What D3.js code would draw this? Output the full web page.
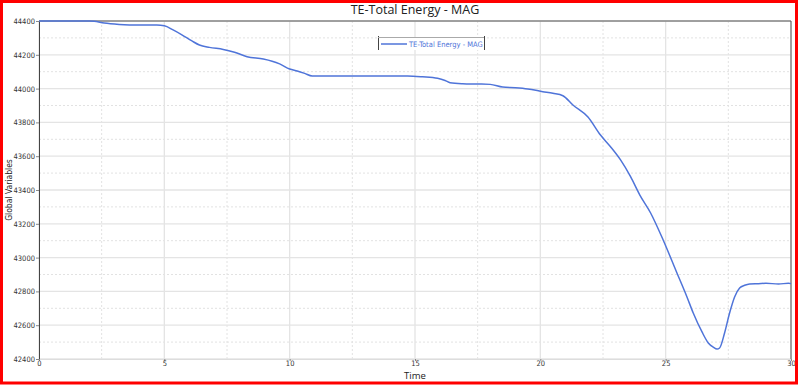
<!DOCTYPE html>
<html><head><meta charset="utf-8">
<script src="https://cdn.jsdelivr.net/npm/d3@7/dist/d3.min.js"></script>
<style>body{margin:0;background:#fff}svg{display:block}</style>
</head><body>
<svg id="c" width="800" height="385"></svg>
<script>
const title = "TE-Total Energy - MAG";
const seriesName = "TE-Total Energy - MAG";
const xLabel = "Time";
const yLabel = "Global Variables";
const xTicks = [0,5,10,15,20,25,30];
const yTicks = [42400,42600,42800,43000,43200,43400,43600,43800,44000,44200,44400];
const times = [0,1,2,2.2,2.6,3.2,4.0,4.7,5.0,5.35,5.7,6.1,6.4,6.8,7.35,7.8,8.3,8.95,9.3,9.6,10.0,10.3,10.6,10.9,12,13,14,14.7,15.3,15.9,16.2,16.4,16.9,17.5,18.0,18.5,19.0,19.5,20.1,20.5,20.9,21.3,21.9,22.4,22.8,23.2,23.6,23.97,24.4,24.9,25.45,25.85,26.1,26.45,26.7,26.9,27.05,27.15,27.35,27.55,27.75,27.95,28.15,28.35,28.7,29.0,29.5,29.9,30];
const values = [44400,44400,44400,44398,44388,44380,44376,44376,44372,44347,44318,44282,44258,44244,44232,44215,44189,44175,44162,44146,44116,44104,44090,44075,44075,44075,44075,44075,44070,44061,44048,44035,44029,44027,44025,44009,44005,43998,43982,43972,43958,43903,43832,43725,43656,43578,43479,43370,43264,43104,42909,42767,42672,42560,42495,42470,42459,42465,42554,42672,42767,42820,42836,42844,42846,42848,42844,42848,42846];

const svg = d3.select("#c");
const L=39,R=791,T=21,B=359;
const x = d3.scaleLinear().domain([0,30]).range([L,R]);
const y = d3.scaleLinear().domain([42400,44400]).range([B,T]);
const tickFont = "DejaVu Sans Condensed, DejaVu Sans";

// minor dotted grid
const xMinor = d3.range(2.5,30,5), yMinor = d3.range(42500,44400,200);
svg.append("g").selectAll("line").data(xMinor).join("line")
  .attr("x1",d=>x(d)).attr("x2",d=>x(d)).attr("y1",T).attr("y2",B)
  .attr("stroke","#e2e2e2").attr("stroke-dasharray","2,2");
svg.append("g").selectAll("line").data(yMinor).join("line")
  .attr("y1",d=>y(d)).attr("y2",d=>y(d)).attr("x1",L).attr("x2",R)
  .attr("stroke","#e2e2e2").attr("stroke-dasharray","2,2");
// major grid
svg.append("g").selectAll("line").data(xTicks).join("line")
  .attr("x1",d=>x(d)).attr("x2",d=>x(d)).attr("y1",T).attr("y2",B)
  .attr("stroke","#e4e4e4").attr("stroke-width",1.3);
svg.append("g").selectAll("line").data(yTicks).join("line")
  .attr("y1",d=>y(d)).attr("y2",d=>y(d)).attr("x1",L).attr("x2",R)
  .attr("stroke","#e4e4e4").attr("stroke-width",1.3);

// axes
const yAxis = d3.axisLeft(y).tickValues(yTicks).tickFormat(d3.format("d")).tickSize(3).tickPadding(1);
const gy = svg.append("g").attr("transform",`translate(${L},0)`).call(yAxis);
gy.selectAll("text").attr("font-family",tickFont).attr("font-size","7.5px").attr("fill","#333");
gy.select(".domain").attr("stroke","#444");
gy.selectAll(".tick line").attr("stroke","#888");
const xAxis = d3.axisBottom(x).tickValues(xTicks).tickSize(2).tickPadding(0);
const gx = svg.append("g").attr("transform",`translate(0,${B})`).call(xAxis);
gx.selectAll("text").attr("font-family",tickFont).attr("font-size","7.5px").attr("fill","#333");
gx.select(".domain").attr("stroke","#ddd");
gx.selectAll(".tick line").attr("stroke","#888");
// top & right frame
svg.append("line").attr("x1",L).attr("x2",R).attr("y1",T).attr("y2",T).attr("stroke","#555");
svg.append("line").attr("x1",R).attr("x2",R).attr("y1",T).attr("y2",B).attr("stroke","#555");

// line
const line = d3.line().x((d,i)=>x(times[i])).y(d=>y(d)).curve(d3.curveMonotoneX);
svg.append("path").datum(values).attr("d",line).attr("fill","none")
  .attr("stroke","#4f74d9").attr("stroke-width",1.5);

// legend
const lg = svg.append("g");
lg.append("rect").attr("x",378).attr("y",37).attr("width",106).attr("height",13).attr("fill","#fff");
lg.append("line").attr("x1",378.5).attr("x2",378.5).attr("y1",36).attr("y2",50).attr("stroke","#444");
lg.append("line").attr("x1",484.5).attr("x2",484.5).attr("y1",36).attr("y2",50).attr("stroke","#444");
lg.append("line").attr("x1",378).attr("x2",484).attr("y1",37.5).attr("y2",37.5).attr("stroke","#aaa");
lg.append("line").attr("x1",381).attr("x2",407).attr("y1",44).attr("y2",44).attr("stroke","#4f74d9").attr("stroke-width",1.5);
lg.append("text").attr("x",409).attr("y",46.5).text(seriesName)
  .attr("font-family",tickFont).attr("font-size","7.5px").attr("fill","#4f74d9");

// title & labels
svg.append("text").attr("x",415).attr("y",14).attr("text-anchor","middle").text(title)
  .attr("font-family","Open Sans, DejaVu Sans").attr("font-size","12.5px").attr("fill","#222");
svg.append("text").attr("x",415).attr("y",379).attr("text-anchor","middle").text(xLabel)
  .attr("font-family","Open Sans, DejaVu Sans").attr("font-size","9.5px").attr("fill","#222");
svg.append("text").attr("transform","translate(12,190) rotate(-90)").attr("text-anchor","middle").text(yLabel)
  .attr("font-family",tickFont).attr("font-size","8.5px").attr("fill","#222");

// red frame
svg.append("rect").attr("x",1.5).attr("y",1.5).attr("width",795).attr("height",381.5)
  .attr("fill","none").attr("stroke","#ff0000").attr("stroke-width",3);
</script>
</body></html>
